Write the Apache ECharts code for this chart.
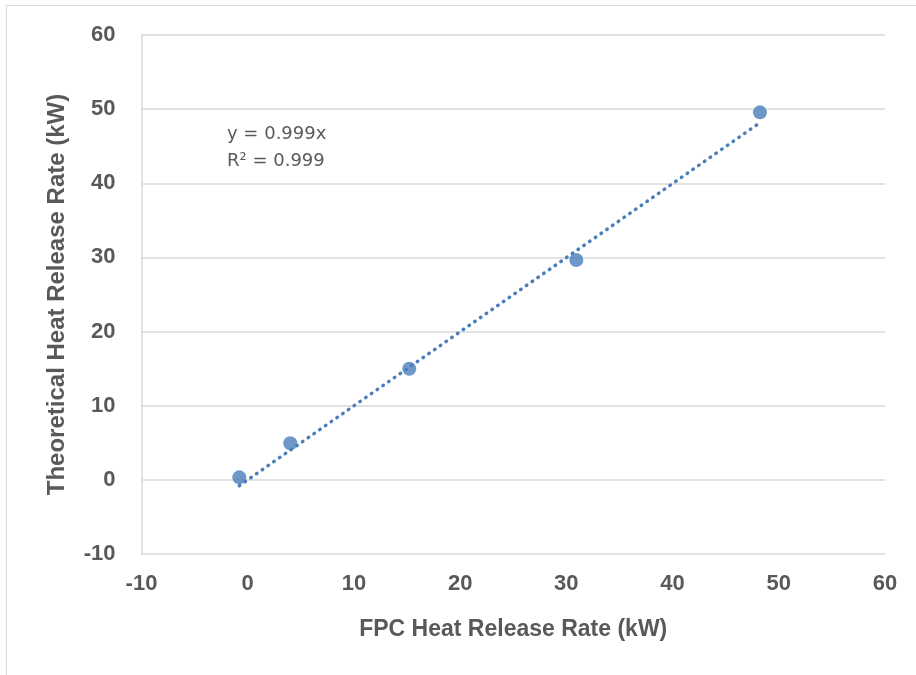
<!DOCTYPE html>
<html>
<head>
<meta charset="utf-8">
<script src="https://cdn.jsdelivr.net/npm/echarts@6/dist/echarts.min.js"></script>
<style>html,body{margin:0;padding:0;background:#fff}#c{width:916px;height:675px}</style>
</head>
<body>
<div id="c"></div>
<script>
// Data
const fpcHRR = [-0.79, 4.01, 15.21, 30.94, 48.23];
const theoHRR = [0.34, 4.93, 14.99, 29.65, 49.57];
const slope = 0.999;
const trendX = [-0.79, 48.23];
const xTicks = [-10, 0, 10, 20, 30, 40, 50, 60];
const yTicks = [-10, 0, 10, 20, 30, 40, 50, 60];
const eqText = ['y = 0.999x', 'R² = 0.999'];
const xTitle = 'FPC Heat Release Rate (kW)';
const yTitle = 'Theoretical Heat Release Rate (kW)';

const pts = fpcHRR.map((x, i) => [x, theoHRR[i]]);
const trend = trendX.map(x => [x, slope * x]);
const fontFam = '"Liberation Sans", Arial, sans-serif';

const chart = echarts.init(document.getElementById('c'), null, {renderer: 'canvas'});
chart.setOption({
  animation: false,
  backgroundColor: '#fff',
  grid: {left: 141.5, right: 31, top: 35, bottom: 121, containLabel: false},
  graphic: [{
    type: 'rect', silent: true,
    shape: {x: 6.5, y: 5.5, width: 1000, height: 1000},
    style: {fill: 'none', stroke: '#d9d9d9', lineWidth: 1}
  }, {
    type: 'text', left: 227, top: 121,
    style: {text: eqText.join('\n'), font: '18px "DejaVu Sans", sans-serif', fill: '#595959', lineHeight: 27}
  }],
  xAxis: {
    type: 'value', min: xTicks[0], max: xTicks[xTicks.length - 1], interval: 10,
    axisLine: {show: false}, axisTick: {show: false}, splitLine: {show: false},
    axisLabel: {color: '#595959', fontSize: 22, fontWeight: 'bold', fontFamily: fontFam, margin: 19},
    name: xTitle, nameLocation: 'middle', nameGap: 64,
    nameTextStyle: {color: '#595959', fontSize: 23, fontWeight: 'bold', fontFamily: fontFam}
  },
  yAxis: {
    type: 'value', min: yTicks[0], max: yTicks[yTicks.length - 1], interval: 10,
    axisLine: {show: true, onZero: false, lineStyle: {color: '#d9d9d9', width: 1.5}},
    axisTick: {show: false},
    splitLine: {show: true, lineStyle: {color: '#d9d9d9', width: 1.5}},
    axisLabel: {color: '#595959', fontSize: 22, fontWeight: 'bold', fontFamily: fontFam, margin: 26},
    name: yTitle, nameLocation: 'middle', nameGap: 72,
    nameTextStyle: {color: '#595959', fontSize: 24, fontWeight: 'bold', fontFamily: fontFam}
  },
  series: [{
    type: 'line', data: trend, symbol: 'none', silent: true, z: 2,
    lineStyle: {color: '#4a7ebb', width: 3.5, type: [0.5, 6.5], cap: 'round'}
  }, {
    type: 'scatter', data: pts, symbol: 'circle', symbolSize: 14, z: 3,
    itemStyle: {color: '#4a7ebb'}
  }]
});
</script>
</body>
</html>
